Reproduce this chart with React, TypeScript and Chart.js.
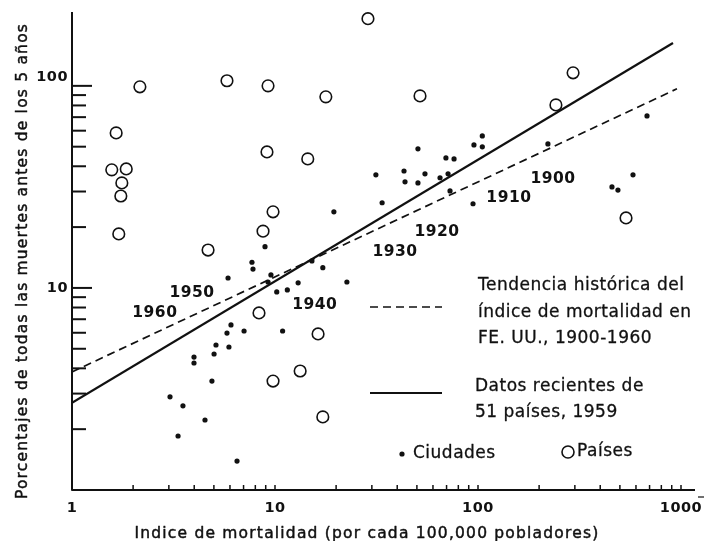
import React, { useEffect, useRef } from 'react';
import { Chart, registerables } from 'chart.js';

Chart.register(...registerables);

// Ciudades (dots)
const ciudadesX = [5.87, 6.07, 5.8, 5.12, 5.01, 5.93, 3.99, 3.99, 4.89, 3.04, 3.52, 4.52, 3.33, 6.5, 8.93, 7.7, 7.79, 9.55, 9.24, 10.2, 11.5, 13.0, 7.04, 10.9, 15.2, 17.2, 22.6, 19.5, 33.7, 31.4, 43.2, 43.7, 50.6, 50.6, 54.8, 65.0, 69.5, 76.2, 71.2, 72.8, 94.5, 95.5, 105, 105, 221, 680, 457, 489, 580];
const ciudadesY = [11.2, 6.56, 5.98, 5.22, 4.71, 5.1, 4.55, 4.25, 3.46, 2.89, 2.61, 2.22, 1.85, 1.39, 16.0, 13.4, 12.4, 11.6, 10.7, 9.55, 9.77, 10.6, 6.12, 6.12, 13.6, 12.6, 10.7, 23.8, 26.4, 36.3, 37.9, 33.5, 48.8, 33.1, 36.7, 35.1, 44.0, 43.5, 36.7, 30.2, 26.1, 51.0, 56.5, 49.9, 51.6, 71.0, 31.6, 30.5, 36.3];

// Países (open circles)
const paisesX = [1.57, 1.85, 1.65, 1.76, 1.74, 1.7, 2.16, 5.8, 4.68, 9.24, 9.13, 14.5, 17.8, 28.7, 51.8, 294, 242, 9.78, 8.73, 536, 8.34, 16.3, 9.78, 13.3, 17.2];
const paisesY = [38.4, 38.8, 58.5, 33.1, 28.5, 18.5, 98.9, 106, 15.4, 100, 47.1, 43.5, 88.2, 215, 89.2, 116, 80.5, 23.8, 19.1, 22.2, 7.52, 5.92, 3.46, 3.88, 2.3];

// Lines
const recientesX = [1, 913];
const recientesY = [2.7, 163];
const tendenciaX = [1, 955];
const tendenciaY = [3.84, 96.7];

// Ticks
const xTickLabels = [1, 10, 100, 1000];
const yTickLabels = [10, 100];

// Year annotations on the historical trend
const yearLabels = ['1900', '1910', '1920', '1930', '1940', '1950', '1960'];
const yearX = [234, 142, 62.8, 39.0, 15.7, 3.9, 2.56];
const yearY = [34.6, 27.9, 18.9, 15.1, 8.24, 9.45, 7.52];

const xTitle = 'Indice de mortalidad (por cada 100,000 pobladores)';
const yTitle = 'Porcentajes de todas las muertes antes de los 5 años';
const legendTrend = ['Tendencia histórica del', 'índice de mortalidad en', 'FE. UU., 1900-1960'];
const legendRecent = ['Datos recientes de', '51 países, 1959'];
const legendCities = 'Ciudades';
const legendCountries = 'Países';

const INK = '#111';

const pts = (xs: number[], ys: number[]) => xs.map((x, i) => ({ x, y: ys[i] }));

const heavyText = (ctx: CanvasRenderingContext2D, t: string, x: number, y: number, w: number) => {
  ctx.fillText(t, x, y);
  if (w > 0) {
    ctx.lineWidth = w;
    ctx.strokeText(t, x, y);
  }
};

const decorPlugin = {
  id: 'decor',
  afterDraw(chart: any) {
    const ctx: CanvasRenderingContext2D = chart.ctx;
    const xs = chart.scales.x;
    const ys = chart.scales.y;
    const ca = chart.chartArea;
    ctx.save();
    ctx.strokeStyle = INK;
    ctx.fillStyle = INK;
    ctx.setLineDash([]);
    ctx.lineJoin = 'round';
    // axes
    ctx.lineWidth = 2;
    ctx.beginPath();
    ctx.moveTo(ca.left, ca.top);
    ctx.lineTo(ca.left, ca.bottom);
    ctx.lineTo(ca.right, ca.bottom);
    ctx.stroke();
    // y ticks
    for (const dec of [1, 10]) {
      for (let m = 2; m <= 10; m++) {
        const v = m * dec;
        if (v > 100) continue;
        const y = ys.getPixelForValue(v);
        const len = m === 10 ? 20 : 14;
        ctx.lineWidth = 2;
        ctx.beginPath();
        ctx.moveTo(ca.left, y);
        ctx.lineTo(ca.left + len, y);
        ctx.stroke();
      }
    }
    // x ticks
    for (const dec of [1, 10, 100]) {
      for (let m = 2; m <= 10; m++) {
        const v = m * dec;
        const x = xs.getPixelForValue(v);
        ctx.lineWidth = 1.5;
        ctx.beginPath();
        ctx.moveTo(x, ca.bottom);
        ctx.lineTo(x, ca.bottom - 5);
        ctx.stroke();
      }
    }
    // tick labels
    ctx.font = 'bold 14.5px "DejaVu Sans"';
    (ctx as any).letterSpacing = '0.5px';
    ctx.textBaseline = 'middle';
    ctx.textAlign = 'right';
    for (const v of yTickLabels) {
      const y = ys.getPixelForValue(v) + (v === 100 ? -9 : 0);
      ctx.fillText(String(v), ca.left - 4, y);
    }
    ctx.textAlign = 'center';
    for (const v of xTickLabels) {
      ctx.fillText(String(v), xs.getPixelForValue(v), ca.bottom + 18);
    }
    // stray dash after 1000
    ctx.lineWidth = 1.2;
    ctx.beginPath();
    ctx.moveTo(698, 497);
    ctx.lineTo(704, 497);
    ctx.stroke();

    // axis titles
    ctx.font = '15.5px "DejaVu Sans"';
    (ctx as any).letterSpacing = '1.2px';
    ctx.textBaseline = 'alphabetic';
    ctx.textAlign = 'center';
    heavyText(ctx, xTitle, 367, 538, 0.45);
    ctx.save();
    ctx.translate(27, 261);
    ctx.rotate(-Math.PI / 2);
    heavyText(ctx, yTitle, 0, 0, 0.45);
    ctx.restore();

    // year labels
    ctx.font = 'bold 15.5px "DejaVu Sans"';
    (ctx as any).letterSpacing = '0.5px';
    ctx.textBaseline = 'middle';
    ctx.textAlign = 'center';
    yearLabels.forEach((t, i) => {
      ctx.fillText(t, xs.getPixelForValue(yearX[i]), ys.getPixelForValue(yearY[i]));
    });

    // legend
    ctx.lineWidth = 1.7;
    ctx.setLineDash([8, 5]);
    ctx.beginPath();
    ctx.moveTo(370, 307);
    ctx.lineTo(442, 307);
    ctx.stroke();
    ctx.setLineDash([]);
    ctx.lineWidth = 2.2;
    ctx.beginPath();
    ctx.moveTo(370, 393);
    ctx.lineTo(442, 393);
    ctx.stroke();

    ctx.font = '17px "DejaVu Sans"';
    (ctx as any).letterSpacing = '0.5px';
    ctx.textAlign = 'left';
    ctx.textBaseline = 'middle';
    const trendY = [286, 313, 339];
    legendTrend.forEach((t, i) => heavyText(ctx, t, 478, trendY[i], 0.3));
    const recentY = [387, 413];
    legendRecent.forEach((t, i) => heavyText(ctx, t, 475, recentY[i], 0.3));

    ctx.beginPath();
    ctx.arc(402, 454, 2.6, 0, Math.PI * 2);
    ctx.fill();
    heavyText(ctx, legendCities, 413, 454, 0.3);
    ctx.lineWidth = 1.6;
    ctx.beginPath();
    ctx.arc(568, 452, 6, 0, Math.PI * 2);
    ctx.stroke();
    heavyText(ctx, legendCountries, 577, 452, 0.3);

    ctx.restore();
  },
};

export default function App() {
  const ref = useRef<HTMLCanvasElement | null>(null);
  useEffect(() => {
    if (!ref.current) return;
    const chart = new Chart(ref.current, {
      type: 'scatter',
      data: {
        datasets: [
          {
            label: 'Países',
            data: pts(paisesX, paisesY),
            pointRadius: 5.8,
            pointBackgroundColor: 'rgba(0,0,0,0)',
            pointBorderColor: INK,
            pointBorderWidth: 1.6,
            order: 0,
          } as any,
          {
            label: 'Ciudades',
            data: pts(ciudadesX, ciudadesY),
            pointRadius: 2.6,
            pointBackgroundColor: INK,
            pointBorderWidth: 0,
            order: 0,
          } as any,
          {
            type: 'line',
            label: 'Datos recientes de 51 países, 1959',
            data: pts(recientesX, recientesY),
            borderColor: INK,
            borderWidth: 2.2,
            pointRadius: 0,
            fill: false,
            showLine: true,
            order: 1,
          } as any,
          {
            type: 'line',
            label: 'Tendencia histórica',
            data: pts(tendenciaX, tendenciaY),
            borderColor: INK,
            borderWidth: 1.7,
            borderDash: [8, 5],
            pointRadius: 0,
            fill: false,
            showLine: true,
            order: 1,
          } as any,
        ],
      },
      options: {
        responsive: false,
        animation: false,
        events: [],
        layout: { padding: { left: 72, right: 16, top: 12, bottom: 51 } },
        plugins: { legend: { display: false }, tooltip: { enabled: false } },
        scales: {
          x: { type: 'logarithmic', min: 1, max: 1172, display: false },
          y: { type: 'logarithmic', min: 1, max: 232, display: false },
        },
      } as any,
      plugins: [decorPlugin],
    });
    return () => chart.destroy();
  }, []);
  return (
    <div style={{ position: 'absolute', left: 0, top: 0, width: 711, height: 541, background: '#fff' }}>
      <canvas ref={ref} width={711} height={541} />
    </div>
  );
}
